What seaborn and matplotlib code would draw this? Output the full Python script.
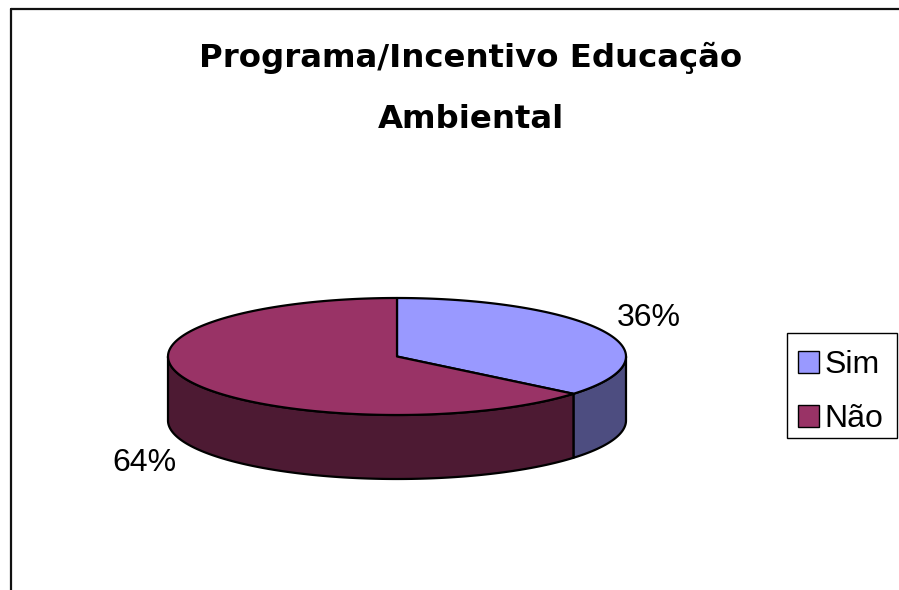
import numpy as np
import matplotlib
matplotlib.use("Agg")
import matplotlib.pyplot as plt
from matplotlib.patches import Polygon, Patch, Rectangle
from matplotlib.lines import Line2D
import seaborn as sns

# ---- data ----
title_lines = ["Programa/Incentivo Educação", "Ambiental"]
categories = ["Sim", "Não"]
values = [36, 64]
label_texts = ["36%", "64%"]
top_colors = ["#9999FF", "#993366"]
side_colors = ["#4D4D80", "#4D1A33"]

sns.set_theme(style="white")
plt.rcParams["font.family"] = ["Liberation Sans", "DejaVu Sans"]
plt.rcParams["text.color"] = "black"
plt.rcParams["legend.labelcolor"] = "black"

W, H = 899, 590
fig = plt.figure(figsize=(W / 100, H / 100), dpi=100)
fig.patch.set_facecolor("white")
ax = fig.add_axes([0, 0, 1, 1])
ax.set_xlim(0, W)
ax.set_ylim(H, 0)
ax.axis("off")

# pie geometry (layout)
cx, cy, rx, ry, depth = 397, 356.5, 229, 58.5, 64
lw = 1.6


def arc(a, b, dy=0.0, n=200):
    t = np.radians(np.linspace(a, b, n))
    return np.column_stack([cx + rx * np.cos(t), cy - ry * np.sin(t) + dy])


fracs = np.array(values, dtype=float) / np.sum(values)
spans = []
start = 90.0
for f in fracs:
    end = start - f * 360.0
    spans.append((start, end))
    start = end

# side walls (front half only)
for (s, e), sc in zip(spans, side_colors):
    lo, hi = min(s, e), max(s, e)
    for k in range(-2, 2):
        a0, a1 = 180 + 360 * k, 360 + 360 * k
        a, b = max(lo, a0), min(hi, a1)
        if b > a:
            top = arc(a, b)
            bot = arc(b, a, dy=depth)
            poly = Polygon(np.vstack([top, bot]), closed=True, facecolor=sc,
                           edgecolor="black", lw=lw, joinstyle="round", zorder=2)
            ax.add_patch(poly)

# top faces
for (s, e), tc in zip(spans, top_colors):
    pts = np.vstack([[cx, cy], arc(s, e)])
    poly = Polygon(pts, closed=True, facecolor=tc, edgecolor="black",
                   lw=lw, joinstyle="round", zorder=3)
    ax.add_patch(poly)

# percentage labels
for (s, e), txt in zip(spans, label_texts):
    mid = np.radians((s + e) / 2)
    c, sn = np.cos(mid), np.sin(mid)
    x = cx + rx * c
    y = cy - ry * sn + (depth if sn < 0 else 0)
    x += 13 * np.sign(c)
    y += -14 * np.sign(sn) if sn > 0 else 18
    ax.text(x, y, txt, fontsize=23, ha="left" if c > 0 else "right",
            va="center", color="black", zorder=4)

# title
t1 = ax.text(471, 58, title_lines[0], fontsize=22, fontweight="bold",
             family=["DejaVu Sans"], ha="center", va="center", color="black")
t2 = ax.text(471, 120, title_lines[1], fontsize=22, fontweight="bold",
             family=["DejaVu Sans"], ha="center", va="center", color="black")
fig.canvas.draw()
w = t1.get_window_extent().width
fs = 22 * 540.0 / w
t1.set_fontsize(fs)
t2.set_fontsize(fs)

# legend (frame drawn separately)
handles = [Patch(facecolor=c, edgecolor="black", lw=1.0) for c in top_colors]
leg = ax.legend(handles, categories, loc="upper left",
                bbox_to_anchor=(787 / W, 1 - 339 / H), bbox_transform=fig.transFigure,
                frameon=False, fontsize=23,
                handlelength=0.66, handleheight=0.66, handletextpad=0.15,
                labelspacing=0.76, borderpad=0.35, borderaxespad=0.0)
for t in leg.get_texts():
    t.set_color("black")
ax.add_patch(Rectangle((787, 333), 110, 105, facecolor="none",
                       edgecolor="black", lw=1.0, zorder=5))

# chart border (top and left visible)
ax.add_line(Line2D([11, W], [9, 9], color="#111111", lw=1.6, zorder=5))
ax.add_line(Line2D([11, 11], [9, H], color="#111111", lw=1.6, zorder=5))

fig.savefig("out.png", dpi=100, facecolor="white")
